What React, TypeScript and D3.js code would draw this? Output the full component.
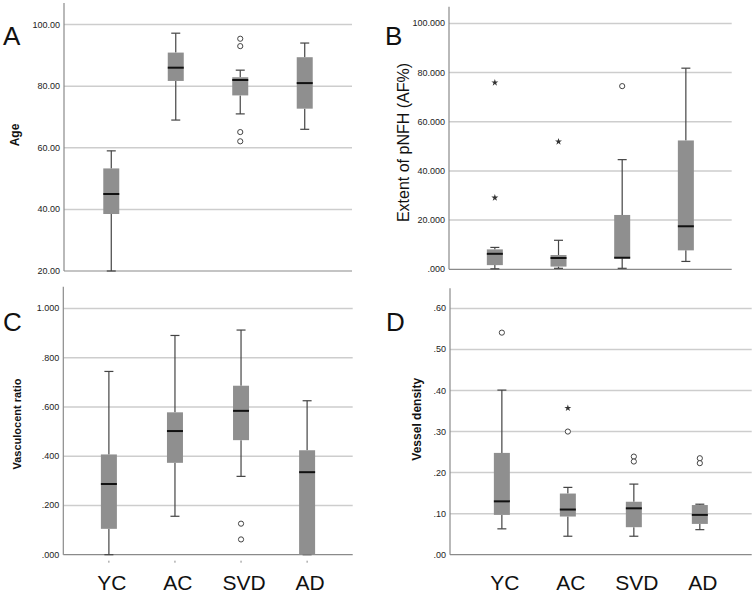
import React from "react";
import * as d3 from "d3";

const categories = ["YC", "AC", "SVD", "AD"];

// each box: [lower whisker, Q1, median, Q3, upper whisker]
const ageBoxes = [
  [20, 38.5, 45, 53.3, 59],
  [69, 81.7, 86, 90.9, 97.2],
  [71, 77, 82, 82.9, 85.2],
  [66, 72.7, 81, 89.4, 94],
];
const ageCircles = [[], [], [95.4, 93, 65.1, 62.1], []];
const ageStars = [[], [], [], []];
const ageTicks = [20, 40, 60, 80, 100];

const pnfhBoxes = [
  [0.2, 1.7, 6.3, 8.1, 8.9],
  [0.4, 1.1, 4.6, 5.8, 11.8],
  [0.4, 4.5, 4.7, 22.1, 44.6],
  [3.2, 7.7, 17.5, 52.4, 81.8],
];
const pnfhCircles = [[], [], [74.5], []];
const pnfhStars = [[75.9, 29.1], [51.9], [], []];
const pnfhTicks = [0, 20, 40, 60, 80, 100];

const vcrBoxes = [
  [0, 0.105, 0.287, 0.407, 0.744],
  [0.156, 0.373, 0.502, 0.578, 0.89],
  [0.318, 0.465, 0.584, 0.686, 0.912],
  [0, 0, 0.335, 0.424, 0.625],
];
const vcrCircles = [[], [], [0.126, 0.062], []];
const vcrStars = [[], [], [], []];
const vcrTicks = [0, 0.2, 0.4, 0.6, 0.8, 1];

const vdBoxes = [
  [0.063, 0.097, 0.13, 0.248, 0.401],
  [0.045, 0.093, 0.11, 0.149, 0.164],
  [0.045, 0.067, 0.113, 0.129, 0.172],
  [0.061, 0.075, 0.097, 0.121, 0.123],
];
const vdCircles = [[0.541], [0.3], [0.239, 0.227], [0.235, 0.223]];
const vdStars = [[], [0.357], [], []];
const vdTicks = [0, 0.1, 0.2, 0.3, 0.4, 0.5, 0.6];

const FONT = "'Liberation Sans', Arial, sans-serif";
const strip = (f: (n: number) => string) => (v: number) => f(v).replace(/^0\./, ".");

const panels = [
  {
    letter: "A", lx: 3, ly: 45,
    left: 64, right: 352, top: 3, bottom: 271, domain: [20, 107], pad: 0.733,
    title: "Age", tx: 15, ty: 135, tsize: 12, tweight: "bold",
    boxes: ageBoxes, circles: ageCircles, stars: ageStars, ticks: ageTicks,
    fmt: d3.format(".2f"), labels: false, dashes: false,
  },
  {
    letter: "B", lx: 385, ly: 45,
    left: 449, right: 731.7, top: 6.7, bottom: 269.3, domain: [0, 106.8], pad: 0.72,
    title: "Extent of pNFH (AF%)", tx: 403, ty: 142.5, tsize: 16, tweight: "normal",
    boxes: pnfhBoxes, circles: pnfhCircles, stars: pnfhStars, ticks: pnfhTicks,
    fmt: strip(d3.format(".3f")), labels: false, dashes: false,
  },
  {
    letter: "C", lx: 3, ly: 330.5,
    left: 63.3, right: 352.7, top: 286.7, bottom: 554.7, domain: [0, 1.088], pad: 0.69,
    title: "Vasculocent ratio", tx: 16.7, ty: 424, tsize: 11, tweight: "bold",
    boxes: vcrBoxes, circles: vcrCircles, stars: vcrStars, ticks: vcrTicks,
    fmt: strip(d3.format(".3f")), labels: true, dashes: true,
  },
  {
    letter: "D", lx: 386, ly: 330.5,
    left: 450, right: 751.7, top: 288.3, bottom: 554.7, domain: [0, 0.649], pad: 0.786,
    title: "Vessel density", tx: 416.7, ty: 419.3, tsize: 12, tweight: "bold",
    boxes: vdBoxes, circles: vdCircles, stars: vdStars, ticks: vdTicks,
    fmt: strip(d3.format(".2f")), labels: true, dashes: false,
  },
];

const star = d3.symbol().type(d3.symbolStar).size(15)();

function Panel({ p }: { p: (typeof panels)[number] }) {
  const x = d3.scalePoint<string>().domain(categories).range([p.left, p.right]).padding(p.pad);
  const y = d3.scaleLinear().domain(p.domain).range([p.bottom, p.top]);
  const bw = 16;
  const cap = 4.5;
  return (
    <g>
      <text x={p.lx} y={p.ly} fontSize={26} fontFamily={FONT} fill="#111">{p.letter}</text>
      {p.ticks.slice(1).map((t) => (
        <line key={"g" + t} x1={p.left} x2={p.right} y1={y(t)} y2={y(t)} stroke="#cdcdcd" strokeWidth={1.5} />
      ))}
      {p.ticks.map((t) => (
        <text key={"t" + t} x={p.left - 4} y={y(t)} textAnchor="end" dominantBaseline="central"
          fontSize={9} fontFamily={FONT} fill="#222">{p.fmt(t)}</text>
      ))}
      <line x1={p.left} x2={p.left} y1={p.top} y2={p.bottom} stroke="#8a8a8a" strokeWidth={1.2} />
      <line x1={p.left} x2={p.right} y1={p.bottom} y2={p.bottom} stroke="#8a8a8a" strokeWidth={1.2} />
      <text transform={`translate(${p.tx},${p.ty}) rotate(-90)`} textAnchor="middle" dominantBaseline="central"
        fontSize={p.tsize} fontWeight={p.tweight} fontFamily={FONT} fill="#111">{p.title}</text>
      {categories.map((c, i) => {
        const cx = x(c)!;
        const [lo, q1, med, q3, hi] = p.boxes[i];
        return (
          <g key={c}>
            <line x1={cx} x2={cx} y1={y(q3)} y2={y(hi)} stroke="#444" strokeWidth={1.2} />
            <line x1={cx} x2={cx} y1={y(q1)} y2={y(lo)} stroke="#444" strokeWidth={1.2} />
            <line x1={cx - cap} x2={cx + cap} y1={y(hi)} y2={y(hi)} stroke="#444" strokeWidth={1.2} />
            <line x1={cx - cap} x2={cx + cap} y1={y(lo)} y2={y(lo)} stroke="#444" strokeWidth={1.2} />
            <rect x={cx - bw / 2} y={y(q3)} width={bw} height={Math.max(0, y(q1) - y(q3))} fill="#8f8f8f" />
            <line x1={cx - bw / 2} x2={cx + bw / 2} y1={y(med)} y2={y(med)} stroke="#111" strokeWidth={2} />
            {p.circles[i].map((v, j) => (
              <circle key={"c" + j} cx={cx} cy={y(v)} r={2.6} fill="white" stroke="#444" strokeWidth={1} />
            ))}
            {p.stars[i].map((v, j) => (
              <path key={"s" + j} d={star} transform={`translate(${cx},${y(v)})`} fill="#333" />
            ))}
            {p.dashes && (
              <line x1={cx} x2={cx} y1={p.bottom + 6} y2={p.bottom + 8} stroke="#888" strokeWidth={1} />
            )}
            {p.labels && (
              <text x={cx + 3} y={590} textAnchor="middle" fontSize={21} fontFamily={FONT} fill="#111">{c}</text>
            )}
          </g>
        );
      })}
    </g>
  );
}

export default function App() {
  return (
    <svg width={755} height={594} style={{ position: "absolute", left: 0, top: 0, background: "white" }}>
      <rect width={755} height={594} fill="white" />
      {panels.map((p) => (
        <Panel key={p.letter} p={p} />
      ))}
    </svg>
  );
}
